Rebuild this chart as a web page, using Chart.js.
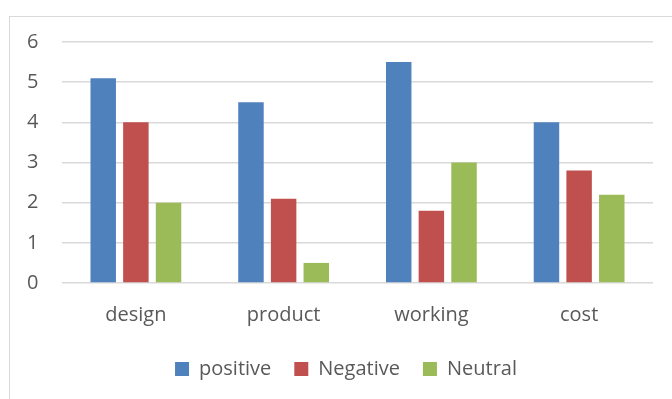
<!DOCTYPE html>
<html>
<head>
<meta charset="utf-8">
<script src="https://cdn.jsdelivr.net/npm/chart.js@4.4.1/dist/chart.umd.min.js"></script>
<style>
    html, body { margin: 0; padding: 0; background: #fff; overflow: hidden; }
    #frame {
        position: absolute; left: 9px; top: 16px;
        width: 720px; height: 420px;
        border: 1px solid #D9D9D9;
    }
    #wrap { position: absolute; left: 0; top: 0; width: 672px; height: 401px; }
</style>
</head>
<body>
<div id="frame"></div>
<div id="wrap"><canvas id="chart"></canvas></div>
<script>
// chart data
const categories = ["design", "product", "working", "cost"];
const positiveValues = [5.1, 4.5, 5.5, 4];
const negativeValues = [4, 2.1, 1.8, 2.8];
const neutralValues = [2, 0.5, 3, 2.2];
const yTicks = [0, 1, 2, 3, 4, 5, 6];

const textColor = "#595959";
const fontFamily = "'Open Sans', 'Liberation Sans', sans-serif";

const ctx = document.getElementById("chart").getContext("2d");

new Chart(ctx, {
    type: "bar",
    data: {
        labels: categories,
        datasets: [
            { label: "positive", data: positiveValues, backgroundColor: "#4F81BD" },
            { label: "Negative", data: negativeValues, backgroundColor: "#C0504D" },
            { label: "Neutral", data: neutralValues, backgroundColor: "#9BBB59" }
        ]
    },
    options: {
        responsive: true,
        maintainAspectRatio: false,
        animation: false,
        datasets: {
            bar: { categoryPercentage: 0.663, barPercentage: 0.78 }
        },
        layout: {
            padding: { left: 39, right: 19, top: 42, bottom: 12 }
        },
        plugins: {
            tooltip: { enabled: false },
            legend: {
                position: "bottom",
                labels: {
                    boxWidth: 14,
                    boxHeight: 14,
                    padding: 23,
                    color: textColor,
                    font: { family: fontFamily, size: 20 }
                }
            }
        },
        scales: {
            x: {
                grid: { display: false, drawTicks: false },
                border: { display: false },
                ticks: {
                    color: textColor,
                    padding: 20,
                    font: { family: fontFamily, size: 20 }
                },
                afterFit: (scale) => { scale.height = 53; }
            },
            y: {
                min: yTicks[0],
                max: yTicks[yTicks.length - 1],
                afterBuildTicks: (scale) => {
                    scale.ticks = yTicks.map((v) => ({ value: v }));
                },
                grid: { color: "#D9D9D9", lineWidth: 1.5, drawTicks: false },
                border: { display: false },
                ticks: {
                    // mirrored so the labels are not clipped to the narrow axis box
                    mirror: true,
                    color: textColor,
                    padding: -35,
                    font: { family: fontFamily, size: 20 }
                },
                afterFit: (scale) => { scale.width = 23; }
            }
        }
    }
});
</script>
</body>
</html>
